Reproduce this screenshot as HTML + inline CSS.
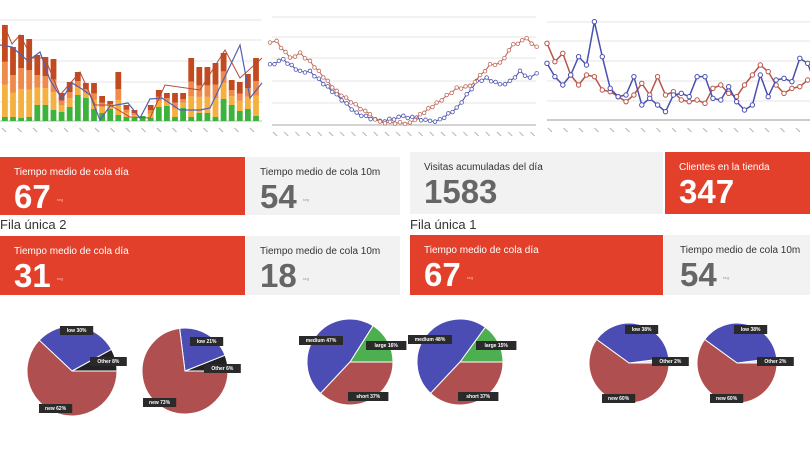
<!DOCTYPE html>
<html><head><meta charset="utf-8"><style>
body{margin:0;width:810px;height:449px;overflow:hidden;background:#fff;font-family:"Liberation Sans",sans-serif}
svg{position:absolute;left:0;top:0}
.box{position:absolute;box-sizing:border-box;padding:8px 14px;white-space:nowrap}
.red{background:#e2402b;color:#fff}
.grey{background:#f2f2f2;color:#333}
.t{font-size:10px;margin-top:2px}
.v{font-size:33px;font-weight:bold;line-height:31px;margin-top:3px}
.grey .v{color:#666}
.u{font-size:4px;font-weight:normal;opacity:.6;margin-left:6px;vertical-align:middle}
.lab{position:absolute;font-size:13px;color:#333}
</style></head><body>
<svg id="s" width="810" height="449"></svg>
<div class="box red" style="left:0;top:157px;width:245px;height:58px"><div class="t">Tiempo medio de cola día</div><div class="v">67<span class="u">seg</span></div></div>
<div class="box grey" style="left:246px;top:157px;width:154px;height:58px"><div class="t">Tiempo medio de cola 10m</div><div class="v">54<span class="u">seg</span></div></div>
<div class="box grey" style="left:410px;top:152px;width:253px;height:62px"><div class="t">Visitas acumuladas del día</div><div class="v">1583</div></div>
<div class="box red" style="left:665px;top:152px;width:145px;height:62px"><div class="t">Clientes en la tienda</div><div class="v">347</div></div>
<div class="lab" style="left:0;top:217px">Fila única 2</div>
<div class="lab" style="left:410px;top:217px">Fila única 1</div>
<div class="box red" style="left:0;top:236px;width:245px;height:59px"><div class="t">Tiempo medio de cola día</div><div class="v">31<span class="u">seg</span></div></div>
<div class="box grey" style="left:246px;top:236px;width:154px;height:59px"><div class="t">Tiempo medio de cola 10m</div><div class="v">18<span class="u">seg</span></div></div>
<div class="box red" style="left:410px;top:235px;width:253px;height:60px"><div class="t">Tiempo medio de cola día</div><div class="v">67<span class="u">seg</span></div></div>
<div class="box grey" style="left:664px;top:235px;width:146px;height:60px;padding-left:16px"><div class="t">Tiempo medio de cola 10m</div><div class="v">54<span class="u">seg</span></div></div>
<script>
const S=document.getElementById('s');let h='';
function line(x1,y1,x2,y2,c,w){h+=`<line x1="${x1}" y1="${y1}" x2="${x2}" y2="${y2}" stroke="${c}" stroke-width="${w}"/>`}
function tick(x,y){h+=`<line x1="${x}" y1="${y}" x2="${x+4}" y2="${y+4}" stroke="#bbb" stroke-width="1.2"/>`}
// left chart
[20,40,61,82,102].forEach(y=>line(0,y,262,y,'#e4e4e4',1));line(0,121,262,121,'#bbb',1);
const tops=[25,47,35,39,55,57,59,93,82,72,83,83,96,101,72,105,110,116,105,90,93,93,93,58,67,67,63,53,80,82,74,58];
const gr=[4,4,3,4,16,16,11,9,14,26,23,12,8,12,6,4,3,20,3,14,15,4,13,4,8,8,4,22,16,10,12,5];
tops.forEach((t,i)=>{const x=2+i*8.1,H=121-t,g=Math.min(gr[i],H);const r=H-g;
 const seg=[[g,'#3db33d'],[r*.35,'#f5b040'],[r*.25,'#ef8a4a'],[r*.4,'#c24a1e']];let y=121;
 seg.forEach(([hh,c])=>{y-=hh;h+=`<rect x="${x}" y="${y}" width="5.8" height="${hh}" fill="${c}"/>`});});
for(let i=0;i<17;i++)tick(2+i*15.5,128);
let bl=[[0,45],[12,47],[28,61],[40,52],[50,80],[62,99],[72,83],[82,89],[90,95],[100,120],[110,106],[128,103],[140,118],[150,99],[162,98],[180,110],[200,110],[210,108],[240,45],[250,98],[262,83]];
h+=`<polyline points="${bl.map(p=>p.join(',')).join(' ')}" fill="none" stroke="#5560b0" stroke-width="1.2"/>`;
let rl=[[4,25],[12,44],[20,35],[32,58],[45,58],[60,95],[80,72],[95,105],[110,105],[130,117],[150,118],[165,85],[200,90],[225,50],[240,78],[262,58]];
h+=`<polyline points="${rl.map(p=>p.join(',')).join(' ')}" fill="none" stroke="#b04a3a" stroke-width="1"/>`;
// middle chart
[17,37,58,81,103].forEach(y=>line(272,y,536,y,'#e6e6e6',1));line(272,125,536,125,'#aaa',1);
function smooth(pts,c,step){let out=[];for(let k=0;k<pts.length-1;k++){const [a,b]=pts[k],[c2,d]=pts[k+1];const n=Math.max(1,Math.round((c2-a)/step));for(let j=0;j<n;j++)out.push([a+(c2-a)*j/n,b+(d-b)*j/n+(j%2?0.8:-0.8)])}out.push(pts[pts.length-1]);
 h+=`<polyline points="${out.map(p=>p.join(',')).join(' ')}" fill="none" stroke="${c}" stroke-width="1.1"/>`;
 out.forEach(p=>h+=`<circle cx="${p[0]}" cy="${p[1]}" r="1.8" fill="#fff" stroke="${c}" stroke-width="0.8"/>`)}
const mr=[[0,85],[20,80],[60,130],[90,115],[120,140],[200,230],[300,300],[330,322],[420,325],[450,300],[500,265],[560,220],[600,215],[660,150],[690,145],[730,90],[770,72],[800,95]].map(p=>[270+p[0]/3,15+p[1]/3]);
const mb=[[0,150],[40,135],[90,170],[120,170],[200,240],[260,295],[330,320],[400,305],[440,310],[480,320],[510,315],[560,280],[620,200],[650,190],[690,210],[720,200],[750,170],[780,190],[800,175]].map(p=>[270+p[0]/3,15+p[1]/3]);
smooth(mb,'#5058b0',4.7);smooth(mr,'#c06a5a',4.7);
for(let i=0;i<24;i++)tick(273+i*11.2,132);
// right chart
[22,41,61,81,101].forEach(y=>line(547,y,810,y,'#e4e4e4',1));line(547,120,810,120,'#999',1);
const B=[145,185,210,180,125,150,20,125,220,245,240,185,270,250,270,290,240,235,245,185,185,250,255,215,260,285,270,180,245,195,190,200,130,145,210];
const R=[85,140,115,180,210,180,185,225,230,245,260,240,205,240,185,240,230,255,260,255,265,220,210,235,245,210,180,150,170,210,235,220,215,195];
function pl(a,c){const pts=a.map((v,i)=>[547+i*7.9,15+v/3]);h+=`<polyline points="${pts.map(p=>p.join(',')).join(' ')}" fill="none" stroke="${c}" stroke-width="1.5"/>`;pts.forEach(p=>h+=`<circle cx="${p[0]}" cy="${p[1]}" r="2.2" fill="#fff" stroke="${c}" stroke-width="1"/>`)}
pl(R,'#b85548');pl(B,'#4a50b0');
for(let i=0;i<17;i++)tick(548+i*15.5,128);
// pies
function pie(cx,cy,r,sl){let a=0;sl.forEach(([p,c])=>{const a2=a+p*3.6,x1=cx+r*Math.cos(-a*Math.PI/180),y1=cy+r*Math.sin(-a*Math.PI/180),x2=cx+r*Math.cos(-a2*Math.PI/180),y2=cy+r*Math.sin(-a2*Math.PI/180);
 h+=`<path d="M${cx},${cy}L${x1},${y1}A${r},${r} 0 ${p>50?1:0} 0 ${x2},${y2}Z" fill="${c}" stroke="#fff" stroke-width="1"/>`;a=a2})}
function tag(x,y,t){const w=t.length*3.6+8;h+=`<rect x="${x}" y="${y}" width="${w}" height="9" fill="#2a2a2a"/><text x="${x+w/2}" y="${y+6.2}" font-size="5" font-weight="bold" fill="#fff" text-anchor="middle">${t}</text>`}
const BL='#4b4db5',RD='#b04f50',GN='#4caf50',BK='#222';
pie(72,371,45,[[8,BK],[30,BL],[62,RD]]);tag(60,326,'low 30%');tag(90,357,'Other 8%');tag(39,404,'new 62%');
pie(185,371,43,[[6,BK],[21,BL],[73,RD]]);tag(190,337,'low 21%');tag(204,364,'Other 6%');tag(143,398,'new 73%');
pie(350,362,43,[[16,GN],[47,BL],[37,RD]]);tag(299,336,'medium 47%');tag(366,341,'large 16%');tag(348,392,'short 37%');
pie(460,362,43,[[15,GN],[48,BL],[37,RD]]);tag(408,335,'medium 48%');tag(476,341,'large 15%');tag(458,392,'short 37%');
pie(629,363,40,[[2,'#ddd'],[38,BL],[60,RD]]);tag(625,325,'low 38%');tag(652,357,'Other 2%');tag(602,394,'new 60%');
pie(737,363,40,[[2,'#ddd'],[38,BL],[60,RD]]);tag(734,325,'low 38%');tag(757,357,'Other 2%');tag(710,394,'new 60%');
// gauge icons
[[213,186],[213,266],[631,265]].forEach(([x,y])=>{h+=`<circle cx="${x}" cy="${y}" r="14" fill="#fff"/><circle cx="${x}" cy="${y}" r="10" fill="#e2402b"/><path d="M${x-7},${y+3}A7,7 0 1 1 ${x+7},${y+3}" fill="none" stroke="#fff" stroke-width="1.5" stroke-dasharray="1.5 1.5"/><line x1="${x}" y1="${y+3}" x2="${x+3}" y2="${y-4}" stroke="#fff" stroke-width="2"/><rect x="${x-5}" y="${y+5}" width="10" height="2" fill="#fff"/>`});
// person icon
h+=`<circle cx="632" cy="181" r="7" fill="#333"/><path d="M618,200 Q618,189 632,189 Q646,189 646,200Z" fill="#333"/>`;
S.innerHTML=h;
</script>
</body></html>
